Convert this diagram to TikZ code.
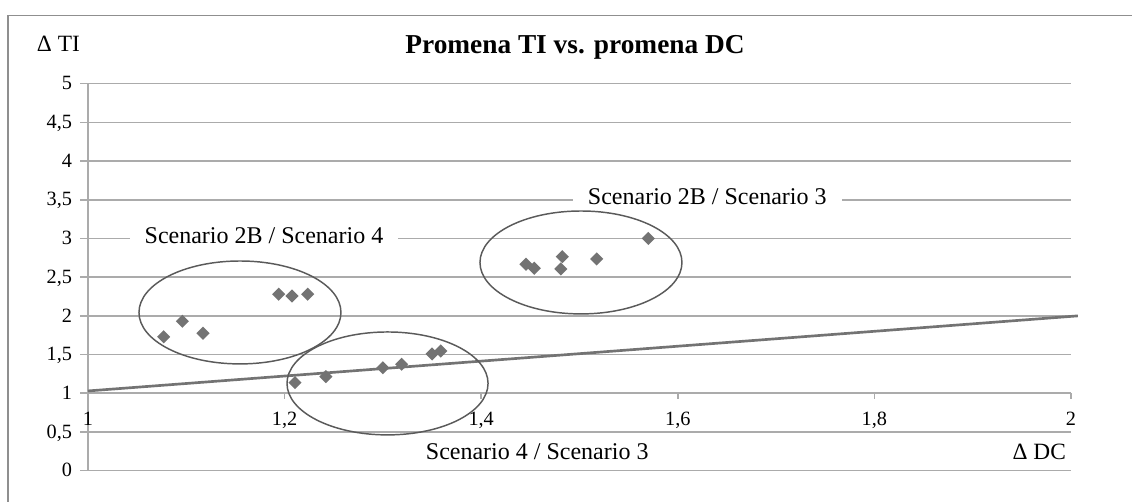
\documentclass[tikz,border=0pt]{standalone}
\usepackage{fontspec}
\setmainfont{Liberation Serif}
\usetikzlibrary{shapes.geometric}
\definecolor{gridgray}{HTML}{ABABAB}
\definecolor{framegray}{HTML}{8F8F8F}
\definecolor{ringgray}{HTML}{5A5A5A}
\definecolor{markgray}{HTML}{737373}

\begin{document}
\begin{tikzpicture}[x=0.75pt, y=-0.75pt,
    grid/.style = {draw=gridgray, line width=1.2pt},
    ring/.style = {draw=ringgray, line width=1.1pt},
    trend/.style = {draw=markgray, line width=2pt},
    diam/.style = {diamond, fill=markgray, inner sep=0pt, minimum size=10pt},
    tick/.style = {font=\fontsize{15.2}{15.2}\selectfont, inner sep=0pt},
    tag/.style = {fill=white, inner xsep=11.25pt, inner ysep=2pt, anchor=base, font=\fontsize{18}{18}\selectfont},
    axtitle/.style = {inner sep=0pt, font=\fontsize{17.5}{17.5}\selectfont}]
\useasboundingbox (0,0) rectangle (1132,502);
\draw[draw=framegray, line width=1.1pt] (1132,15.5) -- (8,15.5) -- (8,502);

\begin{scope}[xshift=-671.25pt, yshift=-353pt, x=737.25pt, y=58.05pt]
    % grid and axes
    \foreach \v in {0,0.5,...,5}
        \draw[grid] (0.992,\v) -- (2,\v);
    \draw[grid] (1,0) -- (1,5);
    \foreach \u in {1,1.2,1.4,1.6,1.8,2}
        \draw[grid] (\u,1) -- (\u,0.92);
    \foreach \v/\t in {0/0, 0.5/{0,5}, 1/1, 1.5/{1,5}, 2/2, 2.5/{2,5}, 3/3, 3.5/{3,5}, 4/4, 4.5/{4,5}, 5/5}
        \node[tick, anchor=base east] at (0.984,{\v-0.08}) {\t};
    \foreach \u/\t in {1/1, 1.2/{1,2}, 1.4/{1,4}, 1.6/{1,6}, 1.8/{1,8}, 2/2}
        \node[tick, anchor=base] at (\u,0.584) {\t};

    % titles
    \node[font=\bfseries\fontsize{20.5}{20.5}\selectfont, anchor=base, inner sep=0pt] (title) at (1.4954,5.393) {Promena TI vs. promena DC};
    \node[axtitle, anchor=base west] (ti) at (0.9478,5.413) {Δ TI};
    \node[axtitle, anchor=base east] (dc) at (1.995,0.138) {Δ DC};

    % group labels
    \node[tag] (g1) at (1.179,2.938) {Scenario 2B / Scenario 4};
    \node[tag] (g2) at (1.457,0.138) {Scenario 4 / Scenario 3};
    \node[tag] (g3) at (1.630,3.433) {Scenario 2B / Scenario 3};

    % trend line
    \coordinate (t0) at (1,1.03);
    \coordinate (t1) at (2.007,2.0);
    \draw[trend] (t0) -- (t1);

    % groups
    \draw[ring] (1.1546,2.044) ellipse [x radius=75.75pt, y radius=38.6pt];
    \draw[ring] (1.3047,1.127) ellipse [x radius=75.4pt, y radius=38.6pt];
    \draw[ring] (1.5015,2.690) ellipse [x radius=75.75pt, y radius=38.6pt];

    % data
    \node[diam] (1) at (1.077,1.73) {};
    \node[diam] (2) at (1.096,1.93) {};
    \node[diam] (3) at (1.117,1.775) {};
    \node[diam] (4) at (1.194,2.28) {};
    \node[diam] (5) at (1.2075,2.257) {};
    \node[diam] (6) at (1.2235,2.28) {};
    \node[diam] (7) at (1.2106,1.137) {};
    \node[diam] (8) at (1.242,1.215) {};
    \node[diam] (9) at (1.300,1.33) {};
    \node[diam] (10) at (1.319,1.375) {};
    \node[diam] (11) at (1.350,1.508) {};
    \node[diam] (12) at (1.3588,1.546) {};
    \node[diam] (13) at (1.4456,2.667) {};
    \node[diam] (14) at (1.454,2.615) {};
    \node[diam] (15) at (1.481,2.606) {};
    \node[diam] (16) at (1.4825,2.765) {};
    \node[diam] (17) at (1.5175,2.735) {};
    \node[diam] (18) at (1.570,3.0) {};
\end{scope}
\end{tikzpicture}
\end{document}
